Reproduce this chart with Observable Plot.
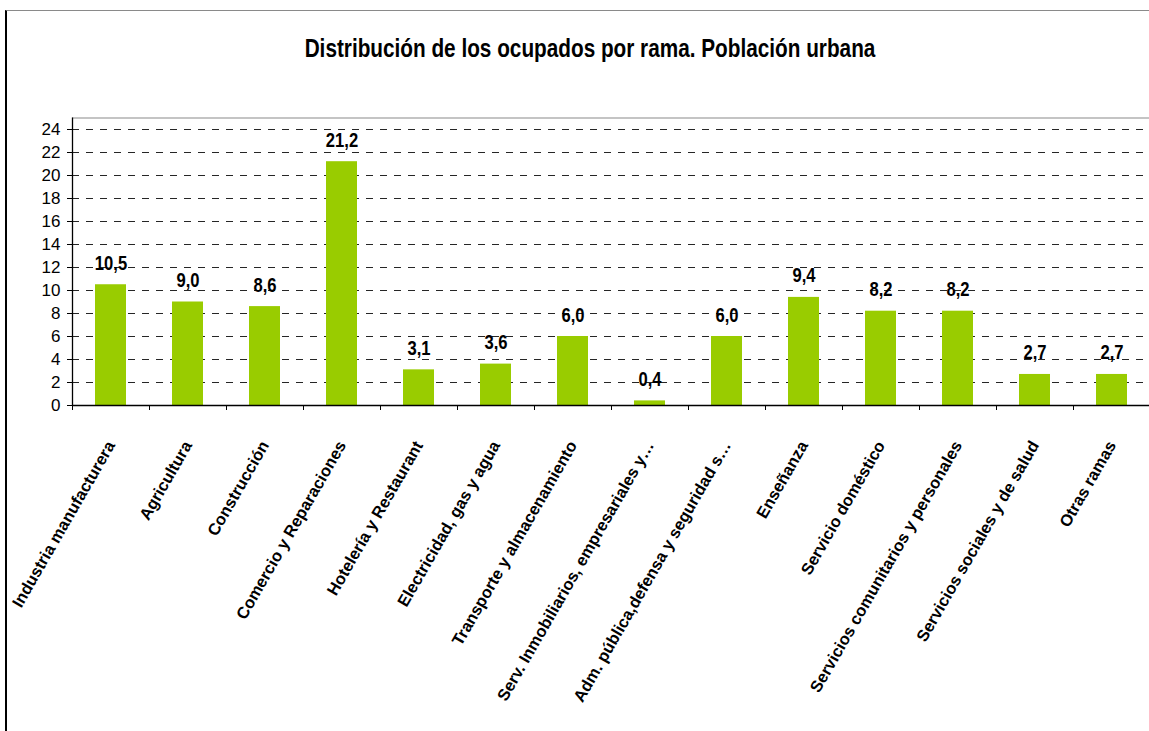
<!DOCTYPE html>
<html><head><meta charset="utf-8">
<script src="https://cdn.jsdelivr.net/npm/d3@7"></script>
<script src="https://cdn.jsdelivr.net/npm/@observablehq/plot@0.6"></script>
<style>
html,body{margin:0;padding:0;overflow:hidden;background:#fff;}
#wrap{position:relative;width:1149px;height:731px;overflow:hidden;}
#frame{position:absolute;left:5px;top:10px;width:1200px;height:800px;border-left:2px solid #000;border-top:1.5px solid #8a8a8a;}
#title{position:absolute;left:590px;top:36px;transform:translateX(-50%) scaleX(0.83);white-space:nowrap;font:bold 25px/25px "Liberation Sans",Arial,sans-serif;color:#000;}
#chart{position:absolute;left:0;top:0;}
</style></head><body>
<div id="wrap"><div id="frame"></div><div id="title">Distribución de los ocupados por rama. Población urbana</div><div id="chart"></div></div>
<script>
const categories = [
  "Industria manufacturera",
  "Agricultura",
  "Construcción",
  "Comercio y Reparaciones",
  "Hotelería y Restaurant",
  "Electricidad, gas y agua",
  "Transporte y almacenamiento",
  "Serv. Inmobiliarios, empresariales y…",
  "Adm. pública,defensa y seguridad s…",
  "Enseñanza",
  "Servicio doméstico",
  "Servicios comunitarios y personales",
  "Servicios sociales y de salud",
  "Otras ramas"
];
const values = [10.5, 9.0, 8.6, 21.2, 3.1, 3.6, 6.0, 0.4, 6.0, 9.4, 8.2, 8.2, 2.7, 2.7];
const yTicks = [0, 2, 4, 6, 8, 10, 12, 14, 16, 18, 20, 22, 24];
const gridTicks = yTicks.filter(t => t > 0);

const data = categories.map((c, i) => ({rama: c, valor: values[i]}));
const fmt = v => d3.format(".1f")(v).replace(".", ",");
const xLeft = 72, xRight = 1150;
const step = (xRight - xLeft) / categories.length;

const chart = Plot.plot({
  width: 1149,
  height: 731,
  marginLeft: 72, marginRight: 0, marginTop: 117.5, marginBottom: 326,
  x: {domain: categories, range: [xLeft, xRight], paddingInner: 0.6, paddingOuter: 0.3, axis: null},
  y: {domain: [0, 25], range: [405, 117.5], axis: null},
  style: {background: "transparent", fontFamily: "'Liberation Sans', Arial, sans-serif", fontSize: "17px", color: "#000"},
  marks: [
    Plot.ruleY([25], {stroke: "#8a8a8a", strokeWidth: 1.2}),
    Plot.gridY(gridTicks, {stroke: "#000", strokeOpacity: 0.85, strokeDasharray: "7,7"}),
    Plot.barY(data, {x: "rama", y: "valor", fill: "#99CC00"}),
    Plot.ruleY([0], {stroke: "#000", strokeWidth: 1.3}),
    Plot.ruleX([categories[0]], {dx: -step / 2, stroke: "#000", strokeWidth: 1.3}),
    Plot.axisY({ticks: yTicks, tickSize: 5, tickPadding: 7, tickFormat: d => String(d), label: null, fontSize: 17}),
    Plot.axisX({ticks: categories, tickSize: 5, tickFormat: () => "", dx: -step / 2, label: null}),
    Plot.text(data, {x: "rama", y: "valor", text: d => fmt(d.valor), dy: -15, lineAnchor: "bottom",
      fontWeight: "bold", fontSize: 20}),
    Plot.text(categories, {x: d => d, frameAnchor: "bottom", dy: 37, rotate: -60, textAnchor: "end",
      lineAnchor: "middle", fontWeight: "bold", fontSize: 16.5})
  ]
});
// condense the value labels horizontally (narrow bold look of the original)
const valueGroup = chart.querySelectorAll('g[aria-label="text"]')[0];
if (valueGroup) {
  valueGroup.querySelectorAll("text").forEach(t => {
    const tr = t.getAttribute("transform");
    if (t.hasAttribute("x") || t.hasAttribute("y")) {
      const x = +t.getAttribute("x") || 0, y = +t.getAttribute("y") || 0;
      t.removeAttribute("x"); t.removeAttribute("y");
      t.setAttribute("transform", (tr ? tr + " " : "") + `translate(${x},${y}) scale(0.83,1)`);
    } else {
      t.setAttribute("transform", (tr || "") + " scale(0.83,1)");
    }
  });
}
document.getElementById("chart").appendChild(chart);
</script>
</body></html>
